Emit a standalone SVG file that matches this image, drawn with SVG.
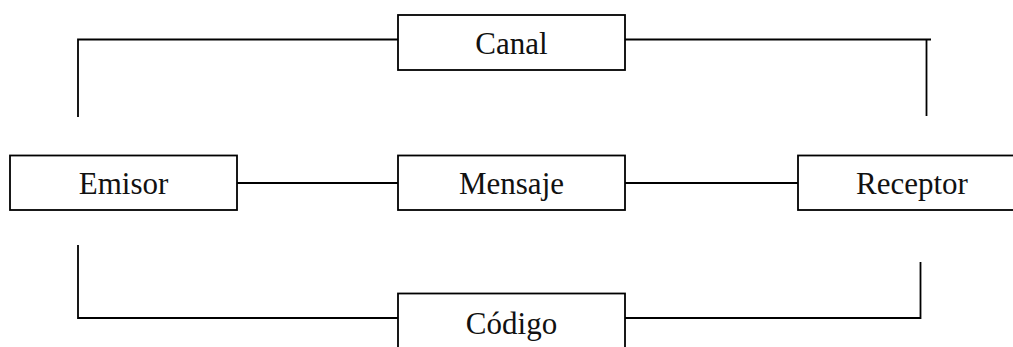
<svg xmlns="http://www.w3.org/2000/svg" width="1013" height="347" viewBox="0 0 1013 347">
<style>
.box{fill:#fff;stroke:#000;stroke-width:1.8}
.lbl{font-family:"Liberation Serif","Times New Roman",serif;font-size:31px;fill:#111;text-anchor:middle}
.c{fill:none;stroke:#000;stroke-width:1.8}
</style>
<rect width="1013" height="347" fill="#fff"/>
<g id="connectors">
<path class="c" d="M78,117 V39.5 H398"/>
<path class="c" d="M625,39.5 H931"/>
<path class="c" d="M926.5,39.5 V116"/>
<path class="c" d="M237,183 H398"/>
<path class="c" d="M625,183 H798"/>
<path class="c" d="M78,245 V318 H398"/>
<path class="c" d="M625,318 H920.5 V262"/>
</g>
<g id="canal"><rect class="box" x="398" y="15" width="227" height="55"/><text class="lbl" x="511.5" y="54">Canal</text></g>
<g id="emisor"><rect class="box" x="10" y="155.5" width="227" height="54.5"/><text class="lbl" x="123.5" y="194">Emisor</text></g>
<g id="mensaje"><rect class="box" x="398" y="155.5" width="227" height="54.5"/><text class="lbl" x="511.5" y="194">Mensaje</text></g>
<g id="receptor"><rect class="box" x="798" y="155.5" width="227" height="54.5"/><text class="lbl" x="912" y="194">Receptor</text></g>
<g id="codigo"><rect class="box" x="398" y="293.5" width="227" height="60"/><text class="lbl" x="511.5" y="334">Código</text></g>
</svg>
